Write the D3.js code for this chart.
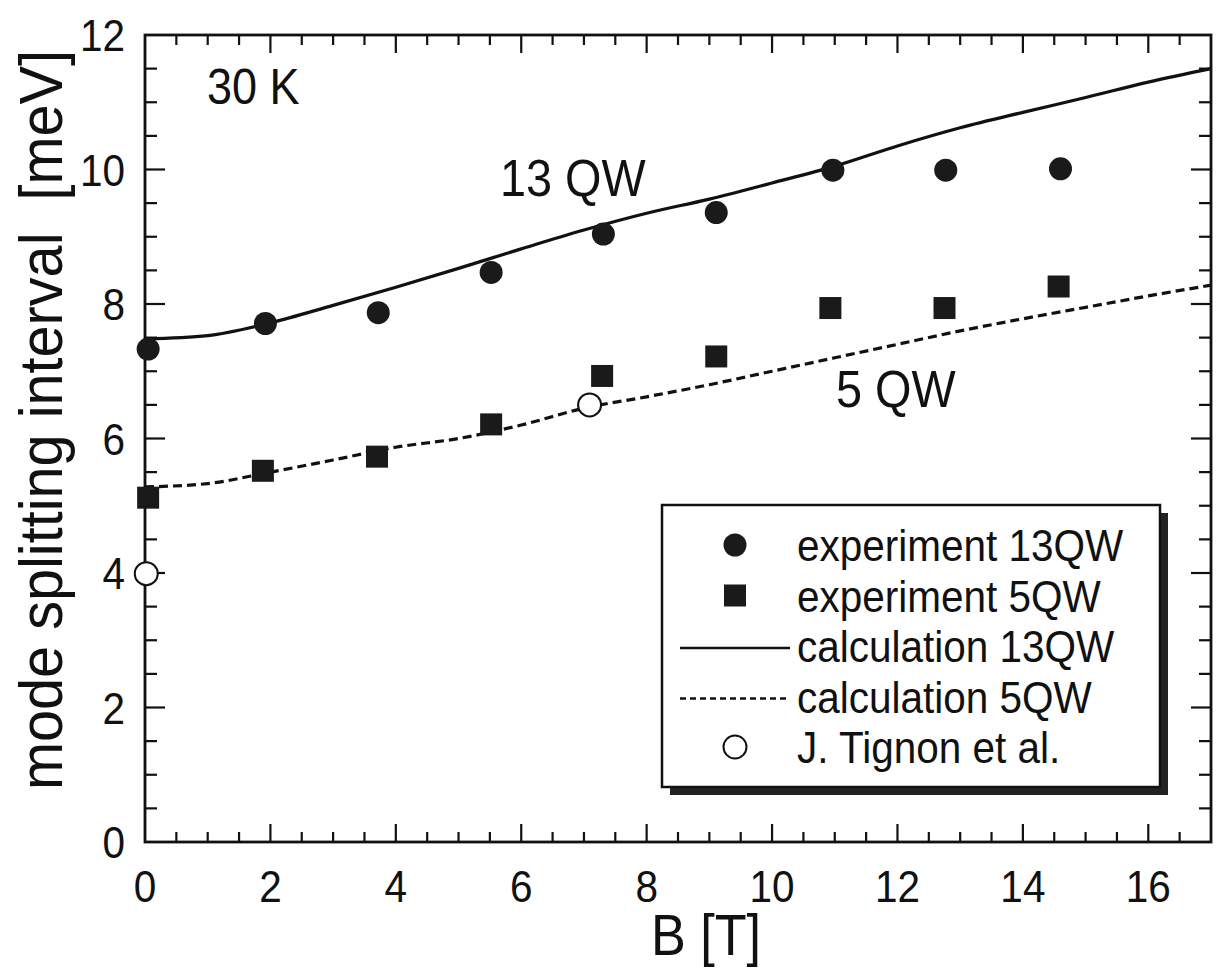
<!DOCTYPE html>
<html><head><meta charset="utf-8">
<script src="https://cdn.jsdelivr.net/npm/d3@7"></script>
<style>
html,body{margin:0;padding:0;background:#fff;}
svg{display:block;}
text{font-family:"Liberation Sans", Arial, Helvetica, sans-serif; fill:#111; white-space:pre;}
</style></head>
<body><div id="chart"></div>
<script>
// ---- data ----
const B_exp13 = [0.05, 1.92, 3.72, 5.52, 7.31, 9.11, 10.97, 12.77, 14.6];
const V_exp13 = [7.33, 7.71, 7.87, 8.47, 9.04, 9.36, 9.99, 9.99, 10.01];
const B_exp5  = [0.05, 1.88, 3.70, 5.52, 7.29, 9.11, 10.93, 12.75, 14.57];
const V_exp5  = [5.12, 5.52, 5.73, 6.21, 6.93, 7.22, 7.94, 7.94, 8.26];
const B_tignon = [0.02, 7.09];
const V_tignon = [3.99, 6.5];
const B_calc = [0,1,2,3,4,5,6,7,8,9,10,11,12,13,14,15,16,17];
const V_calc13 = [7.48,7.53,7.72,7.98,8.25,8.53,8.82,9.10,9.35,9.56,9.80,10.05,10.35,10.62,10.85,11.07,11.30,11.50];
const V_calc5  = [5.28,5.33,5.50,5.68,5.87,6.00,6.20,6.45,6.62,6.80,7.00,7.20,7.40,7.60,7.78,7.95,8.12,8.28];
const xTicks = [0,2,4,6,8,10,12,14,16];
const yTicks = [0,2,4,6,8,10,12];
const legendLabels = ["experiment 13QW","experiment 5QW","calculation 13QW","calculation 5QW","J. Tignon et al."];
const xTitle = "B [T]";
const yTitle = "mode splitting interval  [meV]";

// ---- layout ----
const W = 1218, H = 970;
const m = {left:145, right:W-1211, top:35, bottom:H-842};
const SX = 0.9; // condensed text

const svg = d3.select("#chart").append("svg").attr("width",W).attr("height",H);
const x = d3.scaleLinear().domain([0,17]).range([m.left, W-m.right]);
const y = d3.scaleLinear().domain([0,12]).range([H-m.bottom, m.top]);
const x0 = x.range()[0], x1 = x.range()[1], y0 = y.range()[0], y1 = y.range()[1];

function txt(g, s, px, py, size, anchor, rot, sx){
  const t = g.append("text")
    .attr("transform", `translate(${px},${py})` + (rot?` rotate(${rot})`:"") + ` scale(${sx||SX},1)`)
    .attr("font-size", size).attr("text-anchor", anchor||"start")
    .attr("xml:space","preserve").text(s);
  return t;
}

// ticks (inward, all four sides)
const minorX = d3.range(0, 17.001, 0.5), minorY = d3.range(0, 12.001, 0.5);
const tg = svg.append("g").attr("stroke","#111").attr("stroke-width",2.2);
minorX.forEach(v=>{
  const major = Math.abs(v/2 - Math.round(v/2))<1e-6;
  const L = major?18:10;
  if (v===0 || v===17) return;
  tg.append("line").attr("x1",x(v)).attr("x2",x(v)).attr("y1",y0).attr("y2",y0-L);
  tg.append("line").attr("x1",x(v)).attr("x2",x(v)).attr("y1",y1).attr("y2",y1+L);
});
minorY.forEach(v=>{
  const major = Math.abs(v/2 - Math.round(v/2))<1e-6;
  const L = major?20:12;
  if (v===0 || v===12) return;
  tg.append("line").attr("x1",x0).attr("x2",x0+L).attr("y1",y(v)).attr("y2",y(v));
  tg.append("line").attr("x1",x1).attr("x2",x1-L).attr("y1",y(v)).attr("y2",y(v));
});
svg.append("rect").attr("x",x0).attr("y",y1).attr("width",x1-x0).attr("height",y0-y1)
  .attr("fill","none").attr("stroke","#111").attr("stroke-width",2.8);

// tick labels
const lab = svg.append("g");
xTicks.forEach(v=> txt(lab, String(v), x(v), 902, 45, "middle"));
yTicks.forEach(v=> txt(lab, String(v), 125, y(v)+16, 45, "end"));
txt(lab, xTitle, (x0+x1)/2 + 28, 955, 58, "middle");
txt(lab, yTitle, 62, 420, 62, "middle", -90, 0.93);

// annotations
txt(lab, "30 K", 207, 104, 50, "start");
txt(lab, "13 QW", 500, 196, 52, "start");
txt(lab, "5 QW", 836, 407, 52, "start");

// curves
const line = d3.line().x(d=>x(d[0])).y(d=>y(d[1])).curve(d3.curveMonotoneX);
svg.append("path").datum(B_calc.map((b,i)=>[b,V_calc13[i]])).attr("d",line)
  .attr("fill","none").attr("stroke","#111").attr("stroke-width",3.2);
svg.append("path").datum(B_calc.map((b,i)=>[b,V_calc5[i]])).attr("d",line)
  .attr("fill","none").attr("stroke","#111").attr("stroke-width",3.2).attr("stroke-dasharray","9,5");

// markers
const R = 11.5, S = 22;
svg.append("g").selectAll("circle").data(B_exp13.map((b,i)=>[b,V_exp13[i]])).join("circle")
  .attr("cx",d=>x(d[0])).attr("cy",d=>y(d[1])).attr("r",R).attr("fill","#1a1a1a");
svg.append("g").selectAll("rect").data(B_exp5.map((b,i)=>[b,V_exp5[i]])).join("rect")
  .attr("x",d=>x(d[0])-S/2).attr("y",d=>y(d[1])-S/2).attr("width",S).attr("height",S).attr("fill","#1a1a1a");
svg.append("g").selectAll("circle").data(B_tignon.map((b,i)=>[b,V_tignon[i]])).join("circle")
  .attr("cx",d=>x(d[0])).attr("cy",d=>y(d[1])).attr("r",R).attr("fill","#fff")
  .attr("stroke","#111").attr("stroke-width",2);

// legend
const lg = svg.append("g");
const LX = 662, LY = 505, LW = 498, LH = 282, SH = 8;
lg.append("rect").attr("x",LX+SH).attr("y",LY+SH).attr("width",LW).attr("height",LH).attr("fill","#222");
lg.append("rect").attr("x",LX).attr("y",LY).attr("width",LW).attr("height",LH)
  .attr("fill","#fff").attr("stroke","#111").attr("stroke-width",2.5);
const rowY = i => 545 + i*50.5;
const symX = 735, textX = 797;
lg.append("circle").attr("cx",symX).attr("cy",rowY(0)).attr("r",R).attr("fill","#1a1a1a");
lg.append("rect").attr("x",symX-S/2).attr("y",rowY(1)-S/2).attr("width",S).attr("height",S).attr("fill","#1a1a1a");
lg.append("line").attr("x1",680).attr("x2",790).attr("y1",rowY(2)+2).attr("y2",rowY(2)+2)
  .attr("stroke","#111").attr("stroke-width",2.6);
lg.append("line").attr("x1",680).attr("x2",790).attr("y1",rowY(3)+2).attr("y2",rowY(3)+2)
  .attr("stroke","#111").attr("stroke-width",2.6).attr("stroke-dasharray","6,4");
lg.append("circle").attr("cx",symX).attr("cy",rowY(4)).attr("r",R).attr("fill","#fff")
  .attr("stroke","#111").attr("stroke-width",2);
legendLabels.forEach((s,i)=> txt(lg, s, textX, rowY(i)+16, 45, "start"));
</script></body></html>
